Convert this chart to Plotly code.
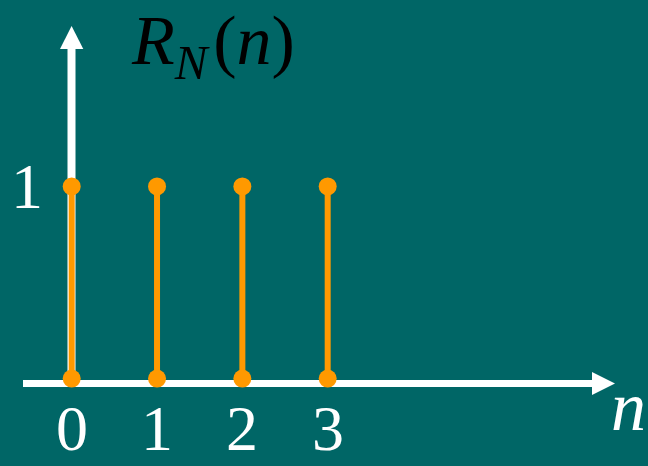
import plotly.graph_objects as go

# Rectangular sequence R_N(n), N = 4
n = [0, 1, 2, 3]
r_n = [1, 1, 1, 1]
x_tick_labels = ["0", "1", "2", "3"]
y_tick_vals = [1]
y_tick_labels = ["1"]

W, H = 648, 466
BG = "#006666"
ORANGE = "#FF9900"
WHITE = "#FFFFFF"
FONT = "Liberation Serif"

# Pixel geometry of the sequence axes
X0_PX, X_STEP = 71.7, 85.33
Y0_PX, Y_STEP = 378.6, 192.2
x_range = [(0 - X0_PX) / X_STEP, (W - X0_PX) / X_STEP]
y_range = [(Y0_PX - H) / Y_STEP, Y0_PX / Y_STEP]


def px(x):
    return x / W


def py(y):
    return 1 - y / H


fig = go.Figure()

# Stems
stem_x, stem_y = [], []
for k, v in zip(n, r_n):
    stem_x += [k, k, None]
    stem_y += [0, v, None]
fig.add_trace(go.Scatter(x=stem_x, y=stem_y, mode="lines",
                         line=dict(color=ORANGE, width=6),
                         hoverinfo="skip", showlegend=False))

# Dots at the stem tops and on the baseline
fig.add_trace(go.Scatter(x=n + n, y=r_n + [0] * len(n), mode="markers",
                         marker=dict(color=ORANGE, size=18, line=dict(width=0)),
                         hoverinfo="skip", showlegend=False))

# Axis arrows
shapes = [
    dict(type="line", xref="paper", yref="paper", x0=px(23), x1=px(596),
         y0=py(383.5), y1=py(383.5), line=dict(color=WHITE, width=7), layer="below"),
    dict(type="line", xref="paper", yref="paper", x0=px(71.5), x1=px(71.5),
         y0=py(387), y1=py(46), line=dict(color=WHITE, width=8), layer="below"),
    dict(type="path", xref="paper", yref="paper", layer="below",
         path=f"M {px(615)},{py(383.5)} L {px(592)},{py(372)} L {px(592)},{py(395)} Z",
         fillcolor=WHITE, line=dict(width=0)),
    dict(type="path", xref="paper", yref="paper", layer="below",
         path=f"M {px(71.6)},{py(26)} L {px(60)},{py(49)} L {px(83.3)},{py(49)} Z",
         fillcolor=WHITE, line=dict(width=0)),
]

annotations = []
for k, lab in zip(n, x_tick_labels):
    annotations.append(dict(x=k, y=0, xref="x", yref="paper", text=lab,
                            showarrow=False, xanchor="center", yanchor="bottom",
                            font=dict(family=FONT, size=64, color=WHITE)))
for v, lab in zip(y_tick_vals, y_tick_labels):
    annotations.append(dict(x=px(27), y=v, xref="paper", yref="y", text=lab,
                            showarrow=False, xanchor="center", yanchor="middle",
                            font=dict(family=FONT, size=64, color=WHITE)))

# Axis name
annotations.append(dict(x=1, y=py(406), xref="paper", yref="paper",
                        text="<i>n</i>", showarrow=False, xanchor="right",
                        yanchor="middle", font=dict(family=FONT, size=70, color=WHITE)))
# Sequence name R_N(n)
annotations.append(dict(
    x=px(129), y=1, xref="paper", yref="paper",
    text="<i>R</i><sub><i>N</i></sub>\u200a(<i>n</i>)",
    showarrow=False, xanchor="left", yanchor="top",
    font=dict(family=FONT, size=70, color="#000000")))

fig.update_layout(
    width=W, height=H,
    margin=dict(l=0, r=0, t=0, b=0),
    paper_bgcolor=BG, plot_bgcolor=BG,
    xaxis=dict(range=x_range, visible=False, fixedrange=True),
    yaxis=dict(range=y_range, visible=False, fixedrange=True),
    shapes=shapes, annotations=annotations,
    showlegend=False,
)

fig.write_html("out.html")
